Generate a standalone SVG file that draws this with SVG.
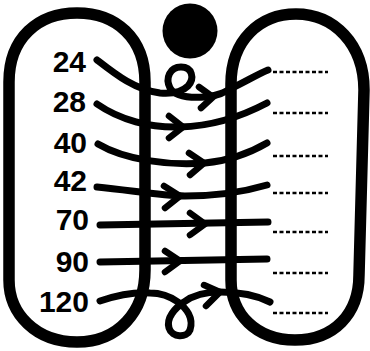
<svg xmlns="http://www.w3.org/2000/svg" width="370" height="351" viewBox="0 0 370 351">
<style>
.oval{fill:none;stroke:#000;stroke-width:11.5;stroke-linejoin:round}
.lbl{font-family:"Liberation Sans",Arial,sans-serif;font-weight:bold;font-size:30px;fill:#000;text-anchor:end}
.ln{fill:none;stroke:#000;stroke-width:7;stroke-linecap:round;stroke-linejoin:round}
.ah{fill:none;stroke:#000;stroke-width:6.5;stroke-linecap:round;stroke-linejoin:miter}
.dot{stroke:#000;stroke-width:2.5;stroke-dasharray:4 2.5}
</style>
<rect width="370" height="351" fill="#fff"/>
<g id="sun"><circle cx="190" cy="31" r="27.5" fill="#000"/></g>
<g id="left-oval"><path class="oval" d="M9,280 V82 C9,38 38,13 77,13 C116,13 145,38 145,82 V270 C145,312 118,342 77,342 C36,342 9,314 9,280 Z"/></g>
<g id="right-oval"><path class="oval" d="M231,280 V84 C231,40 260,14 296,14 C334,14 364,44 364,90 L359,275 C359,314 334,340 295,340 C256,340 231,314 231,280 Z"/></g>
<g id="labels">
<text class="lbl" x="86" y="72">24</text>
<text class="lbl" x="86" y="112">28</text>
<text class="lbl" x="87" y="153">40</text>
<text class="lbl" x="87" y="191">42</text>
<text class="lbl" x="89" y="230">70</text>
<text class="lbl" x="89" y="272">90</text>
<text class="lbl" x="89" y="312">120</text>
</g>
<g id="connectors">
<path class="ln" d="M97,60 C115,74 135,90 160,93 C172,94 182,92 188,86 C195,78 192,67 181,67 C170,67 165,78 170,88 C175,97 190,98 205,97 C218,96 225,92 232,88 C245,82 258,74 268,70"/>
<path class="ah" d="M199,87 L213,97 L201,108"/>
<path class="ln" d="M97,104 C120,120 150,128 180,127 C220,126 250,112 267,103"/>
<path class="ah" d="M169,116 L183,127 L169,138"/>
<path class="ln" d="M98,144 C125,160 170,166 205,163 C235,160 255,150 267,143"/>
<path class="ah" d="M189,153 L204,163 L190,175"/>
<path class="ln" d="M97,187 C130,190 160,196 185,196 C220,196 250,190 267,185"/>
<path class="ah" d="M164,186 L180,196 L165,208"/>
<path class="ln" d="M100,225 L268,222"/>
<path class="ah" d="M190,213 L205,224 L190,235"/>
<path class="ln" d="M100,262 L267,259"/>
<path class="ah" d="M165,251 L180,261 L165,272"/>
<path class="ln" d="M100,301 C115,296 135,292 150,293 C162,293 171,297 178,302 C186,308 194,318 190,330 C187,338 172,338 169,328 C166,318 175,308 184,302 C192,296 205,292 220,292 C240,292 258,296 270,302"/>
<path class="ah" d="M204,285 L220,292 L206,306"/>
</g>
<g id="blanks">
<line class="dot" x1="273" y1="72" x2="328" y2="72"/>
<line class="dot" x1="273" y1="113" x2="328" y2="113"/>
<line class="dot" x1="273" y1="156" x2="328" y2="156"/>
<line class="dot" x1="273" y1="193" x2="328" y2="193"/>
<line class="dot" x1="273" y1="232" x2="328" y2="232"/>
<line class="dot" x1="273" y1="273" x2="328" y2="273"/>
<line class="dot" x1="273" y1="313" x2="328" y2="313"/>
</g>
</svg>
